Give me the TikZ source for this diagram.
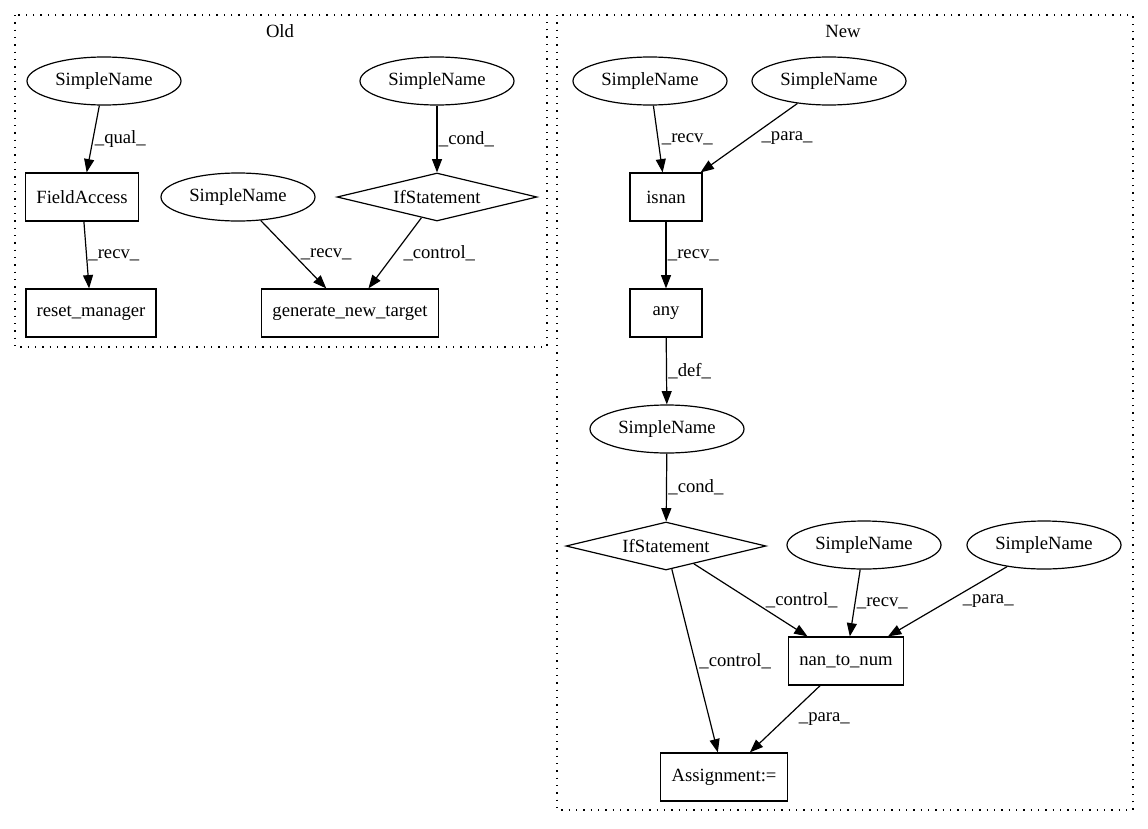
\documentclass[tikz,border=0pt]{standalone}
\usepackage{fontspec}
\setmainfont{Liberation Serif}
\usetikzlibrary{shapes.geometric,arrows.meta}

\begin{document}
\begin{tikzpicture}[x=0.75pt,y=-0.75pt,line width=0.9pt,
    font=\fontsize{14}{16}\selectfont,
    >={Triangle[length=10pt,width=7.5pt]},
    sname/.style={ellipse,draw,minimum width=115.5pt,minimum height=36pt,inner sep=0pt},
    op/.style={rectangle,draw,inner xsep=8pt,minimum width=54pt,minimum height=36pt},
    ifnode/.style={diamond,draw,aspect=4,minimum width=150pt,minimum height=36pt,inner sep=0pt},
    lbl/.style={midway,right,inner sep=1pt},
    cluster/.style={draw,dash pattern=on 1pt off 4.5pt}]
    \useasboundingbox (0,0) rectangle (1148,828);

    %% clusters
    \draw[cluster] (15,15) rectangle (547,347);
    \node (old) at (280,31) {Old};
    \draw[cluster] (557,15) rectangle (1133,810);
    \node (new) at (843,31) {New};

    %% old
    \node[sname] (1) at (104,81) {SimpleName};
    \node[op] (2) at (82,197) {FieldAccess};
    \node[op] (3) at (91,313) {reset\_manager};
    \node[sname] (4) at (437,81) {SimpleName};
    \node[ifnode] (5) at (437,197) {IfStatement};
    \node[sname] (6) at (238,197) {SimpleName};
    \node[op] (7) at (350,313) {generate\_new\_target};

    %% new
    \node[sname] (8) at (650,81) {SimpleName};
    \node[sname] (9) at (829,81) {SimpleName};
    \node[op] (10) at (666,197) {isnan};
    \node[op] (11) at (666,313) {any};
    \node[sname] (12) at (667,429) {SimpleName};
    \node[ifnode] (13) at (666,546) {IfStatement};
    \node[sname] (14) at (864,545) {SimpleName};
    \node[sname] (15) at (1044,545) {SimpleName};
    \node[op] (16) at (846,661) {nan\_to\_num};
    \node[op] (17) at (724,777) {Assignment:=};

    %% old edges
    \draw[->] (1) -- node[lbl] {\_qual\_} (2);
    \draw[->] (2) -- node[lbl] {\_recv\_} (3);
    \draw[->] (6) -- node[lbl,xshift=4pt] {\_recv\_} (7);
    \draw[->] (5) -- node[lbl,xshift=5pt] {\_control\_} (7);
    \draw[->] (4) -- node[lbl] {\_cond\_} (5);

    %% new edges
    \draw[->] (8) -- node[lbl,xshift=1.5pt] {\_recv\_} (10);
    \draw[->] (9) -- node[lbl,xshift=8pt] {\_para\_} (10);
    \draw[->] (10) -- node[lbl] {\_recv\_} (11);
    \draw[->] (11) -- node[lbl] {\_def\_} (12);
    \draw[->] (12) -- node[lbl] {\_cond\_} (13);
    \draw[->] (13) -- node[lbl,xshift=10pt] {\_control\_} (16);
    \draw[->] (14) -- node[lbl] {\_recv\_} (16);
    \draw[->] (15) -- node[lbl,xshift=10pt] {\_para\_} (16);
    \draw[->] (13) -- node[lbl,xshift=2pt] {\_control\_} (17);
    \draw[->] (16) -- node[lbl,xshift=9pt] {\_para\_} (17);
\end{tikzpicture}
\end{document}
